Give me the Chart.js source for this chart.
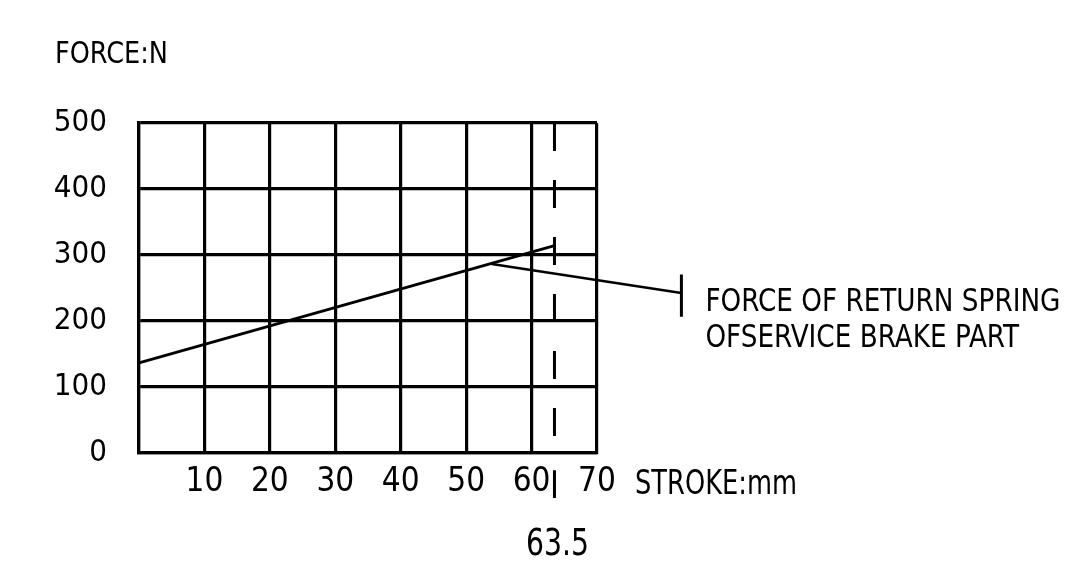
<!DOCTYPE html>
<html>
<head>
<meta charset="utf-8">
<script src="https://cdn.jsdelivr.net/npm/chart.js@4"></script>
<style>
  html,body{margin:0;padding:0;background:#fff;}
  #wrap{width:1080px;height:585px;}
</style>
</head>
<body>
<div id="wrap"><canvas id="c" width="1080" height="585"></canvas></div>
<script>
// ---- data ----
const strokeMm = [0, 63.5];          // STROKE : mm
const forceN   = [136, 314];         // FORCE : N (return spring, service brake part)
const xTickValues = [0, 10, 20, 30, 40, 50, 60, 70];
const yTickValues = [0, 100, 200, 300, 400, 500];
const maxStroke = 63.5;
const leaderX = [53.9, 82.9];        // leader from curve to label (data units)
const leaderY = [286, 242];
const leaderTickY = [270, 206];
const axisTitleY = 'FORCE:N';
const axisTitleX = 'STROKE:mm';
const noteLines = ['FORCE OF RETURN SPRING', 'OFSERVICE BRAKE PART'];

const FONT = '"DejaVu Sans Condensed", "Liberation Sans Narrow", sans-serif';

function fitText(ctx, text, x, y, size, width, align) {
  ctx.save();
  ctx.font = size + 'px ' + FONT;
  const w = ctx.measureText(text).width;
  const k = width / w;
  ctx.textAlign = 'left';
  let left = x;
  if (align === 'center') left = x - width / 2;
  ctx.translate(left, y);
  ctx.scale(k, 1);
  ctx.fillText(text, 0, 0);
  ctx.restore();
  return k;
}

const textPlugin = {
  id: 'texts',
  afterDraw(chart) {
    const ctx = chart.ctx;
    const xs = chart.scales.x;
    ctx.save();
    ctx.fillStyle = '#000';
    ctx.textBaseline = 'alphabetic';
    fitText(ctx, axisTitleY, 55, 63, 31, 113);
    fitText(ctx, axisTitleX, 635, 494, 33, 162);
    const nx = xs.getPixelForValue(leaderX[1]) + 24;
    // same horizontal compression for both note lines
    ctx.font = '32px ' + FONT;
    const k = 355 / ctx.measureText(noteLines[0]).width;
    fitText(ctx, noteLines[0], nx, 311, 32, 355);
    fitText(ctx, noteLines[1], nx, 347, 32, ctx.measureText(noteLines[1]).width * k);
    fitText(ctx, String(maxStroke), xs.getPixelForValue(maxStroke) + 3, 555, 37, 63, 'center');
    ctx.restore();
  }
};

const line = (data, opts) => Object.assign({
  data, borderColor: '#000', borderWidth: 2.5, pointRadius: 0, fill: false,
  tension: 0, clip: false
}, opts);

new Chart(document.getElementById('c'), {
  type: 'line',
  data: {
    datasets: [
      line(strokeMm.map((x, i) => ({x, y: forceN[i]})), {borderWidth: 2.8}),
      line([{x: maxStroke, y: 500}, {x: maxStroke, y: 0}], {borderWidth: 3, borderDash: [28, 29]}),
      line([{x: maxStroke, y: -27}, {x: maxStroke, y: -69}], {borderWidth: 3}),
      line(leaderX.map((x, i) => ({x, y: leaderY[i]})), {borderWidth: 2.6}),
      line([{x: leaderX[1], y: leaderTickY[0]}, {x: leaderX[1], y: leaderTickY[1]}], {borderWidth: 3})
    ]
  },
  options: {
    responsive: false,
    animation: false,
    events: [],
    layout: {padding: {top: 123, right: 483, bottom: 0, left: 0}},
    plugins: {legend: {display: false}, tooltip: {enabled: false}, title: {display: false}},
    scales: {
      x: {
        type: 'linear', min: 0, max: 70,
        afterBuildTicks: s => { s.ticks = xTickValues.map(v => ({value: v})); },
        afterFit: s => { s.height = 132.5; },
        grid: {color: '#000', lineWidth: 3.2, drawTicks: false},
        border: {color: '#000', width: 3.2},
        ticks: {
          color: '#000', padding: 10, maxRotation: 0, autoSkip: false,
          font: {family: FONT, size: 33},
          callback: v => v === 0 ? '' : String(v)
        }
      },
      y: {
        type: 'linear', min: 0, max: 500,
        afterBuildTicks: s => { s.ticks = yTickValues.map(v => ({value: v})); },
        afterFit: s => { s.width = 139; },
        grid: {color: '#000', lineWidth: 3.2, drawTicks: false},
        border: {color: '#000', width: 3.2},
        ticks: {
          color: '#000', padding: 32,
          font: {family: FONT, size: 31},
          callback: v => String(v)
        }
      }
    }
  },
  plugins: [textPlugin]
});
</script>
</body>
</html>
